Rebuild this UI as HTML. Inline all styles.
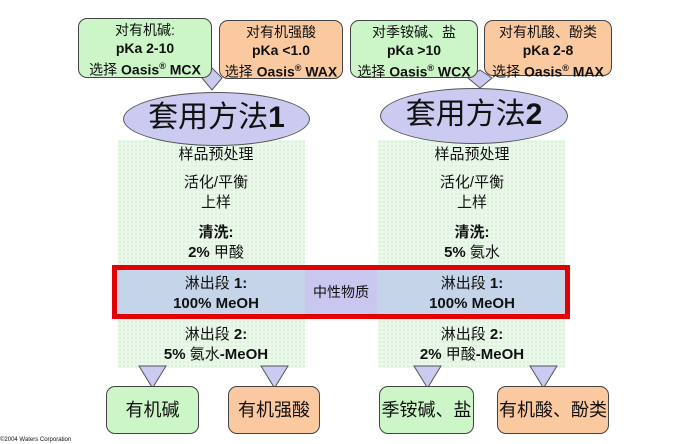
<!DOCTYPE html>
<html><head><meta charset="utf-8"><style>
body{margin:0;width:688px;height:444px;background:#fff;position:relative;overflow:hidden;font-family:"Liberation Sans","Noto Sans CJK SC",sans-serif;color:#111}
.a{position:absolute}
.box{position:absolute;border:1.5px solid #444;border-radius:9px;box-sizing:border-box;text-align:center}
.g{background:#ccf5c8}.o{background:#fbc9a0}
.top{font-size:14px;line-height:18px;font-weight:bold;padding-top:2px}
.top span{font-weight:normal}
.col{position:absolute;background:#eaf8ea;background-image:radial-gradient(#d6efd6 1px,transparent 1px);background-size:4px 4px}
.t{position:absolute;width:190px;text-align:center;font-size:15px;line-height:20px}
.b{font-weight:bold}
.ell{position:absolute;background:#cbcbf2;border:1.5px solid #555;border-radius:50%;box-sizing:border-box;text-align:center;font-size:30px}
.bot{font-size:18px;line-height:46px}
</style></head><body>
<div class="col" style="left:118px;top:140px;width:187px;height:228px"></div>
<div class="col" style="left:378px;top:140px;width:187px;height:228px"></div>
<svg class="a" style="left:0;top:0" width="688" height="444">
<polygon points="212,68 222,78 212,90 202,78" fill="#cbcbf2" stroke="#555"/>
<polygon points="480,70 492,78 480,88 468,78" fill="#cbcbf2" stroke="#555"/>
<polygon points="139,366 166,366 152.5,388" fill="#cbcbf2" stroke="#555"/>
<polygon points="261,366 288,366 274.5,388" fill="#cbcbf2" stroke="#555"/>
<polygon points="414,366 441,366 427.5,388" fill="#cbcbf2" stroke="#555"/>
<polygon points="530,366 557,366 543.5,388" fill="#cbcbf2" stroke="#555"/>
</svg>
<div class="box g top" style="left:78px;top:18px;width:134px;height:60px"><span>对有机碱:</span><br>pKa 2-10<br><span>选择</span> Oasis<sup style="font-size:9px">®</sup> MCX</div>
<div class="box o top" style="left:219px;top:20px;width:124px;height:59px"><span>对有机强酸</span><br>pKa &lt;1.0<br><span>选择</span> Oasis<sup style="font-size:9px">®</sup> WAX</div>
<div class="box g top" style="left:350px;top:20px;width:128px;height:58px"><span>对季铵碱、盐</span><br>pKa &gt;10<br><span>选择</span> Oasis<sup style="font-size:9px">®</sup> WCX</div>
<div class="box o top" style="left:484px;top:20px;width:128px;height:56px"><span>对有机酸、酚类</span><br>pKa 2-8<br><span>选择</span> Oasis<sup style="font-size:9px">®</sup> MAX</div>
<div class="ell" style="left:123px;top:92px;width:187px;height:54px;line-height:50px">套用方法<b>1</b></div>
<div class="ell" style="left:380px;top:88px;width:188px;height:56px;line-height:52px">套用方法<b>2</b></div>
<div class="a" style="left:112px;top:265px;width:458px;height:54px;border:5px solid #e30000;box-sizing:border-box;background:#c6d4ea"></div>
<div class="a" style="left:305px;top:270px;width:72px;height:44px;background:#c9c6f0;font-size:14px;line-height:44px;text-align:center">中性物质</div>
<div class="t" style="left:121px;top:145px">样品预处理</div>
<div class="t" style="left:121px;top:173px">活化/平衡<br>上样</div>
<div class="t b" style="left:121px;top:223px">清洗:<br>2% <span style="font-weight:normal">甲酸</span></div>
<div class="t b" style="left:121px;top:274px"><span style="font-weight:normal">淋出段</span> 1:<br>100% MeOH</div>
<div class="t b" style="left:121px;top:325px"><span style="font-weight:normal">淋出段</span> 2:<br>5% <span style="font-weight:normal">氨水</span>-MeOH</div>
<div class="t" style="left:377px;top:145px">样品预处理</div>
<div class="t" style="left:377px;top:173px">活化/平衡<br>上样</div>
<div class="t b" style="left:377px;top:223px">清洗:<br>5% <span style="font-weight:normal">氨水</span></div>
<div class="t b" style="left:377px;top:274px"><span style="font-weight:normal">淋出段</span> 1:<br>100% MeOH</div>
<div class="t b" style="left:377px;top:325px"><span style="font-weight:normal">淋出段</span> 2:<br>2% <span style="font-weight:normal">甲酸</span>-MeOH</div>
<div class="box g bot" style="left:106px;top:386px;width:93px;height:48px">有机碱</div>
<div class="box o bot" style="left:228px;top:386px;width:92px;height:48px">有机强酸</div>
<div class="box g bot" style="left:379px;top:386px;width:95px;height:48px">季铵碱、盐</div>
<div class="box o bot" style="left:497px;top:386px;width:112px;height:48px">有机酸、酚类</div>
<div class="a" style="left:0;top:437px;font-size:6px">©2004 Waters Corporation</div>
</body></html>
